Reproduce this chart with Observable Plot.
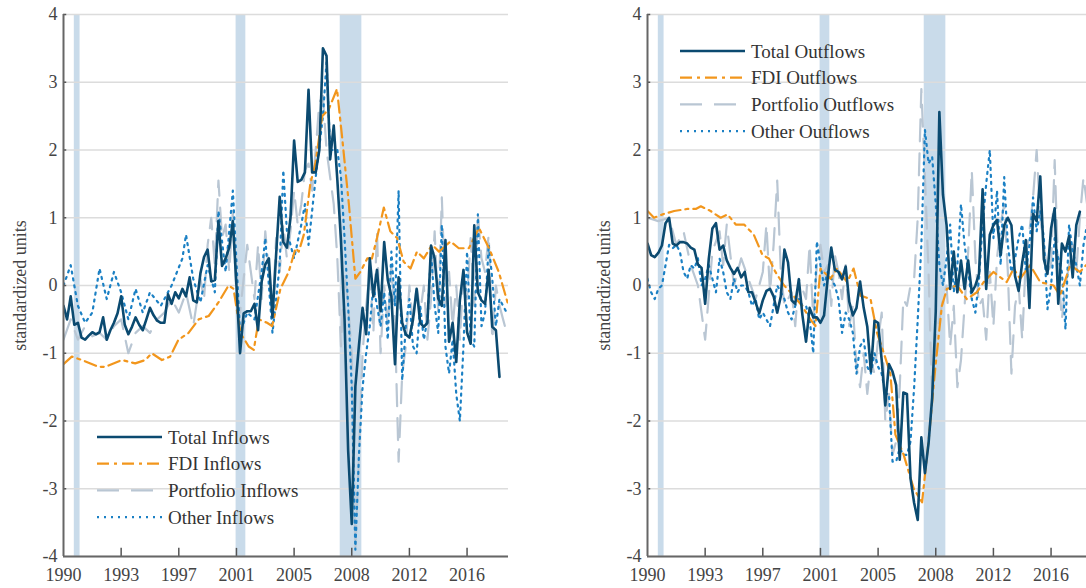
<!DOCTYPE html>
<html>
<head>
<meta charset="utf-8">
<script src="https://cdn.jsdelivr.net/npm/d3@7"></script>
<script src="https://cdn.jsdelivr.net/npm/@observablehq/plot@0.6"></script>
<style>
  body { margin: 0; background: #fff; overflow: hidden; }
  #wrap { display: flex; flex-wrap: nowrap; width: 1100px; }
</style>
</head>
<body>
<div id="wrap"><div id="left"></div><div id="right"></div></div>
<script>
// quarter index 0 = 1990Q1, tick every 16 quarters
const tickQ = [0, 16, 32, 48, 64, 80, 96, 112];
const tickLabels = ["1990", "1993", "1997", "2001", "2005", "2008", "2012", "2016"];
const recessions = [[3.0, 4.6], [47.9, 50.6], [76.8, 82.8]];

// inflows (left panel)
const totalIn = [-0.3,-0.5,-0.16,-0.58,-0.55,-0.77,-0.8,-0.74,-0.69,-0.72,-0.69,-0.47,-0.8,-0.66,-0.55,-0.41,-0.16,-0.58,-0.72,-0.61,-0.47,-0.58,-0.66,-0.5,-0.33,-0.44,-0.52,-0.55,-0.55,-0.13,-0.27,-0.1,-0.19,-0.05,-0.16,0.12,-0.22,-0.25,0.18,0.42,0.53,0.06,0.08,0.95,0.29,0.4,0.56,0.95,0.0,-1.0,-0.41,-0.38,-0.38,-0.27,-0.66,0.06,0.31,0.4,-0.47,0.45,1.31,0.64,0.56,1.0,2.14,1.53,1.56,1.67,2.89,1.67,1.67,2.0,3.5,3.39,1.86,2.36,1.56,0.67,-0.5,-2.44,-3.52,-1.49,-0.88,-0.33,-0.72,0.4,-0.16,0.23,-0.38,0.64,0.08,-0.16,-1.16,0.12,-0.55,-0.72,-0.77,-0.5,-0.05,-0.55,-0.61,-0.55,0.59,0.4,-0.19,-0.3,0.67,-0.83,-0.55,-1.13,-0.22,0.23,-0.69,-0.86,0.89,-0.1,-0.22,-0.27,0.23,-0.61,-0.66,-1.35];
const fdiInQ = [0,2.3,5.1,9.7,11.6,16.2,19.9,22.7,24.5,27.3,29.6,31.9,34.7,37.5,40.3,43,45.8,47.2,49.1,51.4,52.8,54.2,56.5,57.9,60.2,62.5,64.4,65.3,66.7,68.5,69.9,71.8,73.6,75.9,77.3,79.2,81,82.4,84.3,85.6,87,88.9,90.7,92.6,94.4,96.3,98.1,100,102.3,104.2,107.4,109.7,112.5,115.3,118.1,120.8,123.5];
const fdiIn = [-1.16,-1.05,-1.1,-1.2,-1.2,-1.1,-1.15,-1.1,-1.0,-1.1,-1.05,-0.8,-0.7,-0.5,-0.45,-0.25,0.0,-0.05,-0.7,-0.9,-0.95,-0.5,-0.55,-0.6,-0.05,0.2,0.55,0.5,0.75,1.5,1.8,2.5,2.6,2.9,2.2,1.2,0.1,0.2,0.4,0.4,0.7,1.15,0.8,0.7,0.35,0.25,0.5,0.4,0.6,0.5,0.65,0.55,0.55,0.85,0.55,0.2,-0.3];
const portInQ = [0,2,4,6,8,10,12,14,16,18,20,22,24,26,28,30,32,34,36,38,39,40,41,42,43,44,45,46,47,48,49,50,51,52,53,54,55,56,57,58,59,60,61,62,63,64,65,66,67,68,69,70,71,72,73,74,75,76,77,78,79,80,81,82,83,84,85,86,87,88,89,90,91,92,93,94,95,96,97,98,99,100,101,102,103,104,105,106,107,108,109,110,111,112,113,114,115,116,117,118,119,120,121,122,123];
const portIn = [-0.8,-0.5,-0.8,-0.6,-0.75,-0.7,-0.8,-0.6,-0.5,-1.0,-0.7,-0.6,-0.7,-0.5,-0.4,-0.2,-0.4,-0.1,-0.6,0.1,-0.2,0.6,1.0,0.3,1.55,0.7,0.9,0.2,1.1,-0.2,-0.4,0.1,0.6,0.2,-0.2,0.6,-0.2,0.8,0.2,-0.5,0.7,0.2,0.9,0.4,0.8,1.4,0.9,1.2,1.7,1.8,1.4,2.0,2.7,2.8,2.0,1.6,1.2,0.4,-0.9,0.2,-0.3,-1.0,-3.9,-2.5,-1.0,-0.3,0.2,-0.7,0.8,-1.0,0.0,-0.6,0.3,-0.6,-2.6,-1.3,-0.9,0.0,-0.6,0.0,-0.4,0.0,-0.8,-0.2,0.8,-0.4,1.3,-0.3,0.2,-0.6,0.0,-0.8,0.2,-0.2,0.7,-0.3,1.05,0.4,0.2,0.75,-0.8,0.0,-0.3,-0.5,-0.7];
const otherInQ = [0,2,4,6,8,10,12,14,16,18,20,22,24,27,30,33,34,36,38,40,42,43,45,47,49,51,53,55,56,58,60,61,62,64,66,67,68,70,72,73,74,76,77,78,79,80,81,82,83,84,85,86,87,88,89,90,91,92,93,94,95,96,97,98,99,100,101,102,103,104,105,106,107,108,109,110,111,112,113,114,115,116,117,118,119,120,121,123];
const otherIn = [0.0,0.3,-0.3,-0.55,-0.4,0.25,-0.2,0.2,-0.1,-0.5,-0.05,-0.4,-0.1,-0.3,0.0,0.4,0.75,0.1,-0.25,0.3,-0.1,1.1,0.2,1.4,-0.7,-0.4,-0.5,0.2,0.7,-0.7,0.3,1.7,0.8,0.4,0.9,1.2,0.6,1.6,2.5,3.3,2.0,2.0,1.6,0.7,-0.3,-1.5,-3.9,-2.5,-1.5,-1.0,-0.6,0.0,-0.3,-0.6,-0.1,-0.8,0.5,-0.3,1.4,-1.4,-0.6,-0.2,-0.9,-1.0,-0.3,-0.8,-0.5,0.5,-0.3,-0.7,0.9,-0.9,-1.3,-0.8,-1.6,-2.0,-0.9,0.5,-0.8,-0.9,1.05,-0.6,-0.4,0.6,0.1,-0.6,-0.2,-0.4];

// outflows (right panel)
const totalOut = [0.62,0.45,0.42,0.48,0.59,0.92,1.0,0.62,0.59,0.64,0.64,0.62,0.56,0.53,0.31,0.26,-0.27,0.39,0.84,0.92,0.53,0.59,0.37,0.26,0.17,0.26,0.12,0.2,-0.1,-0.1,-0.25,-0.41,-0.22,-0.08,-0.05,-0.16,-0.4,-0.16,0.53,0.34,-0.22,-0.27,0.09,-0.44,-0.83,-0.33,-0.47,-0.47,-0.55,-0.44,0.1,0.56,0.23,0.2,0.09,0.28,-0.24,-0.44,-0.33,0.06,-0.33,-0.61,-1.27,-0.52,-0.55,-1.1,-1.77,-1.16,-1.27,-1.47,-2.57,-1.58,-1.6,-2.85,-3.21,-3.46,-2.24,-2.77,-2.33,-1.66,-0.38,2.56,1.34,0.89,-0.05,0.5,-0.1,0.37,-0.05,0.37,-0.1,0.0,0.17,1.42,-0.05,0.75,0.89,0.97,0.45,0.89,1.0,0.89,0.14,-0.08,0.34,0.67,-0.33,1.06,0.95,1.61,0.39,0.17,0.84,1.14,-0.27,0.62,0.5,0.73,0.12,0.89,1.09];
const fdiOutQ = [0,1.8,4.2,7.4,11.1,13.4,14.8,17.5,20.3,22.2,24.5,26.8,29.5,31.9,33.7,35.5,37.9,39.7,42.9,45.2,46.6,48,50.8,52.6,55.4,57.2,59.1,61.9,63.7,65.6,67.4,68.8,71.1,73.9,76.2,78,79.9,81.7,83.1,85.9,88.6,91.4,93.3,96,99.7,101.6,103.4,106.2,109,112.7,114.5,117.3,120,121.7];
const fdiOut = [1.1,1.0,1.05,1.1,1.13,1.13,1.17,1.1,1.0,1.05,0.9,0.9,0.75,0.45,0.4,0.2,0.0,-0.1,-0.3,-0.5,-0.6,0.25,0.1,0.25,0.05,0.25,-0.15,-0.2,-0.7,-1.0,-1.3,-2.2,-2.5,-3.0,-3.2,-2.3,-1.2,-0.3,-0.05,0.0,-0.2,-0.1,0.05,0.2,0.05,0.25,0.1,0.3,0.05,0.0,-0.15,0.3,0.2,0.3];
const portOutQ = [0,3,6,8,10,12,14,16,18,20,21,22,24,26,28,30,32,33,34,35,36,37,38,40,41,42,44,45,46,47,48,49,50,51,52,53,54,55,56,57,58,59,60,61,62,63,64,65,66,67,68,69,70,71,72,73,74,75,76,77,78,79,80,81,82,83,84,85,86,87,88,89,90,91,92,93,94,95,96,97,98,99,100,101,102,103,104,105,106,107,108,109,110,111,112,113,114,115,116,117,118,119,120,121,122];
const portOut = [1.0,0.95,1.0,0.6,0.8,0.3,0.0,-0.8,0.5,0.8,0.3,0.9,0.0,0.4,0.1,-0.2,0.2,0.9,-0.1,0.6,1.55,0.2,-0.3,-0.1,-0.6,0.1,-0.2,0.6,-0.5,0.3,0.6,0.2,0.3,-0.3,0.45,0.2,-0.2,0.3,-0.6,-0.3,-1.2,-1.5,-1.0,-1.6,-1.1,-1.3,-0.8,-0.4,-2.0,-1.6,-2.5,-2.3,-1.5,-0.2,-0.3,0.0,0.1,1.0,2.9,1.6,0.2,-1.7,-0.8,-0.5,-0.2,0.0,-0.9,-0.3,-1.5,-1.1,-0.3,0.5,1.7,0.4,-0.3,-0.2,-0.8,0.2,-0.6,0.4,0.9,1.2,0.2,-1.3,-0.3,0.0,-0.8,0.4,0.8,1.3,2.0,1.0,0.6,0.2,0.3,1.85,0.2,-0.5,0.0,0.3,0.6,0.2,1.0,1.6,1.2];
const otherOut = [0.1,-0.1,-0.2,-0.05,0.0,0.3,0.6,0.55,0.6,0.5,0.2,0.1,0.3,0.25,0.4,0.0,0.1,0.3,0.1,-0.1,0.4,0.2,-0.1,-0.2,0.1,-0.1,0.0,0.0,-0.1,-0.3,-0.2,-0.5,-0.4,-0.5,-0.6,-0.3,0.0,-0.1,-0.2,-0.4,-0.5,-0.3,-0.2,-0.3,-0.3,-0.5,-1.0,0.65,0.3,0.0,0.2,0.1,0.0,-0.2,-0.7,-0.4,-0.5,-0.7,-1.3,-0.9,-0.8,-1.2,-1.3,-1.0,-1.2,-1.3,-1.6,-1.6,-2.6,-2.6,-2.4,-2.5,-2.5,-2.3,-1.5,-0.5,0.6,2.3,1.8,1.9,1.2,0.3,0.0,0.4,0.9,-0.1,0.3,1.2,0.6,0.2,-0.2,-0.4,0.1,0.9,1.5,2.0,0.7,1.4,0.3,1.6,0.6,0.2,0.4,0.7,0.9,0.2,0.6,1.3,0.8,1.1,0.7,-0.35,0.0,0.7,0.4,0.2,-0.65,0.9,0.5,0.3,0.0,0.6,0.9];

const C = {total: "#0b4a70", fdi: "#f2961c", port: "#b9c6d3", other: "#1b80c4", band: "#c9dbea"};
const FONT = "'Liberation Serif', 'DejaVu Serif', serif";
const styles = {
  total: {stroke: C.total, strokeWidth: 2.6},
  fdi: {stroke: C.fdi, strokeWidth: 2.2, strokeDasharray: "12,5,3,5"},
  port: {stroke: C.port, strokeWidth: 2.2, strokeDasharray: "22,12"},
  other: {stroke: C.other, strokeWidth: 2.2, strokeDasharray: "2,5"}
};

const pts = (qs, vs) => vs.map((v, i) => ({q: qs ? qs[i] : i, v}));

function panel(series, width, marginLeft, marginRight, legend, legendPos) {
  const svg = Plot.plot({
    width, height: 588,
    marginLeft, marginRight, marginTop: 14, marginBottom: 32,
    style: {fontFamily: FONT, fontSize: "18px", color: "#444", background: "white"},
    x: {domain: [0, 123.5]},
    y: {domain: [-4, 4]},
    marks: [
      Plot.rect(recessions, {x1: d => d[0], x2: d => d[1], y1: -4, y2: 4, fill: C.band}),
      Plot.ruleY(d3.range(-4, 5), {stroke: "#dcdcdc", strokeWidth: 1.5}),
      ...series.map(s => Plot.line(s.data, {x: "q", y: "v", ...styles[s.key], clip: true})),
      Plot.ruleX(tickQ.slice(1), {y1: -4, y2: -3.88, stroke: "#555", strokeWidth: 1.5}),
      Plot.ruleY(d3.range(-3, 5), {x1: 0, x2: 0.9, stroke: "#555", strokeWidth: 1.5}),
      Plot.ruleX([0], {stroke: "#666", strokeWidth: 2}),
      Plot.ruleY([-4], {stroke: "#666", strokeWidth: 2}),
      Plot.axisX({ticks: tickQ, tickFormat: (d, i) => tickLabels[i], tickSize: 0, tickPadding: 12, label: null,
                  fontFamily: FONT, fontSize: 18}),
      Plot.axisY({ticks: d3.range(-4, 5), tickFormat: d => String(d), tickSize: 0, tickPadding: 6,
                  label: "standardized units", labelAnchor: "center", labelArrow: "none", labelOffset: 50,
                  fontFamily: FONT, fontSize: 18})
    ]
  });
  // legend drawn inside the plot area
  const g = d3.select(svg).append("g").attr("font-family", FONT).attr("font-size", 19).attr("text-anchor", "start");
  legend.forEach((it, i) => {
    const y = legendPos.y + i * 26.7;
    const st = styles[it.key];
    g.append("line").attr("x1", legendPos.x).attr("x2", legendPos.x + 65).attr("y1", y).attr("y2", y)
      .attr("stroke", st.stroke).attr("stroke-width", st.strokeWidth).attr("stroke-dasharray", st.strokeDasharray || null);
    g.append("text").attr("x", legendPos.x + 71).attr("y", y).attr("dy", "0.35em").attr("fill", "#333").text(it.label);
  });
  return svg;
}

const left = panel([
  {key: "port", data: pts(portInQ, portIn)},
  {key: "other", data: pts(otherInQ, otherIn)},
  {key: "fdi", data: pts(fdiInQ, fdiIn)},
  {key: "total", data: pts(null, totalIn)}
], 540, 63, 32, [
  {key: "total", label: "Total Inflows"}, {key: "fdi", label: "FDI Inflows"},
  {key: "port", label: "Portfolio Inflows"}, {key: "other", label: "Other Inflows"}
], {x: 97, y: 437});

const right = panel([
  {key: "port", data: pts(portOutQ, portOut)},
  {key: "other", data: pts(null, otherOut)},
  {key: "fdi", data: pts(fdiOutQ, fdiOut)},
  {key: "total", data: pts(null, totalOut)}
], 552, 107, 0, [
  {key: "total", label: "Total Outflows"}, {key: "fdi", label: "FDI Outflows"},
  {key: "port", label: "Portfolio Outflows"}, {key: "other", label: "Other Outflows"}
], {x: 140, y: 51});

d3.select("#left").append(() => left);
d3.select("#right").append(() => right);
</script>
</body>
</html>
